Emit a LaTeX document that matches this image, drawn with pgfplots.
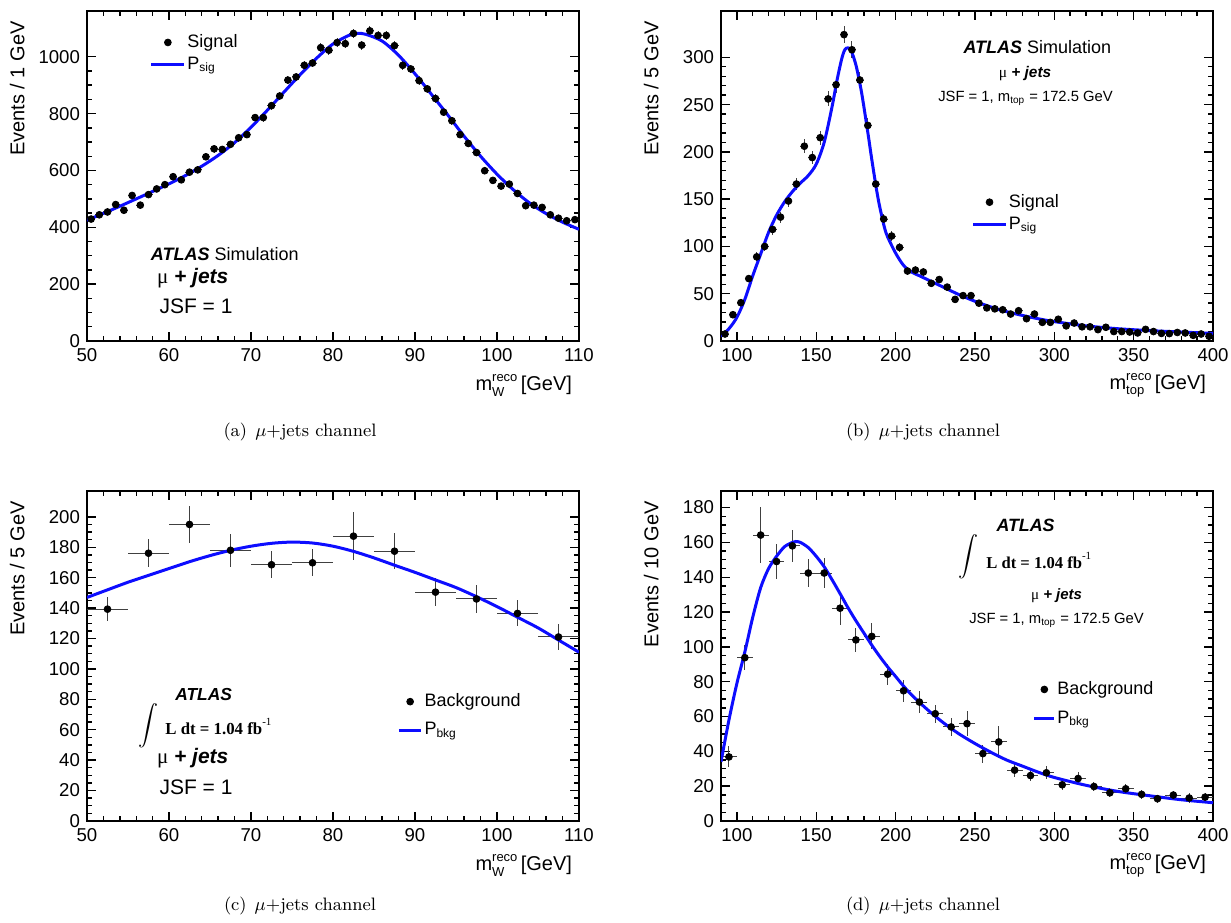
\documentclass[border=0pt]{standalone}
\usepackage{pgfplots}
\pgfplotsset{compat=1.18}
\usepackage{fontspec}
\newfontfamily\helv{Liberation Sans}
\newfontfamily\tms{Liberation Serif}
\definecolor{rootblue}{rgb}{0.05,0.05,1}
\newcommand{\fs}[1]{\fontsize{#1}{#1}\selectfont}
\newcommand{\mlabel}[1]{m\rlap{\raisebox{-2.9pt}{\fs{6.5}#1}}\raisebox{4.3pt}{\fs{6.5}reco}\,[GeV]}
\def\legw{16.5pt}
\pgfplotsset{
  rootstyle/.style={
    scale only axis, width=246pt, height=165pt,
    axis line style={line width=0.9pt},
    every tick/.style={line width=0.7pt, black},
    major tick length=4.5pt, minor tick length=2.4pt,
    tick align=inside,
    scaled ticks=false,
    /pgf/number format/assume math mode=true,
    /pgf/number format/1000 sep={},
    ticklabel style={font=\helv\fs{9.3}},
    label style={font=\helv\fs{10}},
    ylabel style={at={(axis description cs:-0.142,0.99)}, anchor=east},
    xlabel style={at={(axis description cs:1,-0.135)}, anchor=east},
    legend cell align=left,
  },
  datastyle/.style={only marks, mark=*, mark size=1.7pt, black,
    error bars/x dir=both, error bars/y dir=both, error bars/y explicit,
    error bars/x fixed=#1,
    error bars/error bar style={line width=0.5pt, black!75}, error bars/error mark=none},
  curvestyle/.style={rootblue, line width=1.5pt, smooth, no marks},
  legdata/.style={legend image code/.code={\draw[mark repeat=2,mark phase=2,##1] plot coordinates {(0pt,0pt) (\legw/2,0pt) (\legw,0pt)};}},
  legline/.style={legend image code/.code={\draw[##1] (0pt,0pt) -- (\legw,0pt);}},
}
\begin{document}
\begin{tikzpicture}
\useasboundingbox (0,0) rectangle (615.5pt,461pt);

% ---------------- (a) ----------------
\def\legw{16.5pt}
\begin{axis}[rootstyle, at={(43.5pt,290.5pt)}, anchor=south west,
  xmin=50, xmax=110, ymin=0, ymax=1161,
  xtick={50,60,...,110}, minor x tick num=4,
  ytick={0,200,...,1000}, minor y tick num=3,
  ylabel={Events / 1 GeV},
  xlabel={\mlabel{W}},
  legend style={draw=none, fill=none, at={(rel axis cs:0.127,0.935)}, anchor=north west,
    font=\helv\fs{9}, row sep=1.5pt, inner sep=0pt, nodes={inner sep=0.8pt}}]
\addplot[datastyle=0.5, legdata] table[x=x, y=y, y error=ey] {
x y ey
50.5 429 10
51.5 444 10.5
52.5 454 10.5
53.5 480 11
54.5 460 10.5
55.5 512 11.3
56.5 478 11
57.5 515 11.3
58.5 535 11.5
59.5 550 11.7
60.5 578 12
61.5 567 11.9
62.5 594 12.2
63.5 602 12.3
64.5 648 12.7
65.5 676 13
66.5 674 13
67.5 692 13.2
68.5 715 13.4
69.5 726 13.5
70.5 786 14
71.5 786 14
72.5 828 14.4
73.5 862 14.7
74.5 918 15.1
75.5 929 15.2
76.5 970 15.6
77.5 978 15.6
78.5 1032 16
79.5 1023 16
80.5 1050 16.2
81.5 1046 16.2
82.5 1082 16.4
83.5 1041 16.1
84.5 1091 16.5
85.5 1075 16.4
86.5 1075 16.4
87.5 1039 16.1
88.5 970 15.6
89.5 957 15.5
90.5 916 15.1
91.5 887 14.9
92.5 853 14.6
93.5 805 14.2
94.5 775 13.9
95.5 726 13.5
96.5 695 13.2
97.5 663 12.9
98.5 599 12.2
99.5 565 11.9
100.5 545 11.7
101.5 552 11.7
102.5 519 11.4
103.5 476 10.9
104.5 478 10.9
105.5 470 10.8
106.5 444 10.5
107.5 432 10.4
108.5 423 10.3
109.5 427 10.3
};
\addlegendentry{Signal}
\addplot[curvestyle, legline] coordinates {
(50,425) (52,449) (54,474) (56,500) (58,526) (60,553) (62,582) (64,615) (66,653)
(68,698) (70,752) (72,812) (74,875) (76,937) (78,995) (80,1045) (82,1076) (83,1082)
(84,1079) (86,1055) (88,1005) (90,940) (92,868) (94,795) (96,720) (98,650) (100,587)
(102,532) (104,485) (106,448) (108,418) (110,393)};
\addlegendentry{P$_{\mbox{\fs{6}sig}}$}
\node[anchor=west, font=\helv\fs{9}] at (rel axis cs:0.1155,0.262) {\textbf{\textit{ATLAS}} Simulation};
\node[anchor=west, font=\helv\fs{10.5}] at (rel axis cs:0.128,0.191) {{\tms μ} \textbf{\textit{+ jets}}};
\node[anchor=west, font=\helv\fs{10.5}] at (rel axis cs:0.133,0.104) {JSF = 1};
\end{axis}

% ---------------- (b) ----------------
\def\legw{16.2pt}
\begin{axis}[rootstyle, at={(360.5pt,290.5pt)}, anchor=south west,
  xmin=90, xmax=400, ymin=0, ymax=349,
  xtick={100,150,...,400}, minor x tick num=4,
  ytick={0,50,...,300}, minor y tick num=4,
  ylabel={Events / 5 GeV},
  xlabel={\mlabel{top}},
  legend style={draw=none, fill=none, at={(rel axis cs:0.509,0.451)}, anchor=north west,
    font=\helv\fs{9}, row sep=1.7pt, inner sep=0pt, nodes={inner sep=0.8pt}}]
\addplot[datastyle=2.5, legdata] table[x=x, y=y, y error=ey] {
x y ey
92.5 7.4 1.4
97.5 27.8 2.6
102.5 40.5 3.2
107.5 66 4
112.5 89 4.7
117.5 100 5
122.5 118 5.4
127.5 131 5.7
132.5 148 6
137.5 166 6.4
142.5 206 7.2
147.5 194 7
152.5 215 7.3
157.5 256 8
162.5 271 8.2
167.5 324 9
172.5 308 8.8
177.5 276 8.3
182.5 228 7.5
187.5 166 6.4
192.5 129 5.7
197.5 111 5.3
202.5 99 5
207.5 74 4.3
212.5 75 4.3
217.5 73 4.3
222.5 61 3.9
227.5 65 4
232.5 57 3.8
237.5 44 3.3
242.5 48 3.5
247.5 48 3.5
252.5 40 3.2
257.5 35 3
262.5 34 2.9
267.5 33 2.9
272.5 28.5 2.7
277.5 32 2.8
282.5 23.6 2.4
287.5 28.5 2.7
292.5 19.7 2.2
297.5 19.7 2.2
302.5 23 2.4
307.5 16 2
312.5 19 2.2
317.5 15 1.9
322.5 15 1.9
327.5 12 1.7
332.5 14.5 1.9
337.5 10 1.6
342.5 10 1.6
347.5 9.5 1.5
352.5 8.5 1.5
357.5 12.3 1.8
362.5 10 1.6
367.5 8 1.4
372.5 7.8 1.4
377.5 9 1.5
382.5 8.5 1.5
387.5 6 1.2
392.5 7.4 1.4
397.5 5 1.1
};
\addlegendentry{Signal}
\addplot[curvestyle, legline] coordinates {
(90,5) (95,13) (100,25) (105,44) (110,69) (115,92) (120,115) (125,133) (130,147)
(135,158) (140,167) (145,175) (150,187) (155,210) (160,248) (163,275) (166,298)
(168,308) (170,310) (172,307) (175,292) (178,268) (180,248) (183,215) (185,192)
(188,160) (190,142) (193,120) (195,110) (200,93) (205,80) (210,73) (215,69) (220,65)
(230,57) (240,49) (250,42) (260,36) (270,31) (280,27) (290,23.5) (300,20.5)
(320,16) (340,13) (360,11) (380,9.5) (400,8)};
\addlegendentry{P$_{\mbox{\fs{6}sig}}$}
\node[font=\helv\fs{9}] at (rel axis cs:0.643,0.891) {\textbf{\textit{ATLAS}} Simulation};
\node[font=\helv\fs{7.7}] at (rel axis cs:0.618,0.81) {{\tms μ} \textbf{\textit{+ jets}}};
\node[font=\helv\fs{7.4}] at (rel axis cs:0.619,0.735) {JSF = 1, m$_{\mbox{\fs{5}top}}$ = 172.5 GeV};
\end{axis}

% ---------------- (c) ----------------
\def\legw{11.3pt}
\begin{axis}[rootstyle, at={(43.5pt,50.5pt)}, anchor=south west,
  xmin=50, xmax=110, ymin=0, ymax=217,
  xtick={50,60,...,110}, minor x tick num=4,
  ytick={0,20,...,200}, minor y tick num=3,
  ylabel={Events / 5 GeV},
  xlabel={\mlabel{W}},
  legend style={draw=none, fill=none, at={(rel axis cs:0.63,0.392)}, anchor=north west,
    font=\helv\fs{9}, row sep=4.8pt, inner sep=0pt, nodes={inner sep=0.8pt}}]
\addplot[datastyle=2.5, legdata] table[x=x, y=y, y error=ey] {
x y ey
52.5 139.3 7.7
57.5 176.1 9.3
62.5 195 12
67.5 178 11
72.5 168.5 9
77.5 169.8 9
82.5 187.3 16
87.5 177.4 12
92.5 150.5 9
97.5 146 9
102.5 136.5 8.6
107.5 121 8.5
};
\addlegendentry{Background}
\addplot[curvestyle, legline] coordinates {
(50,147) (52.5,152) (55,157) (57.5,161.5) (60,166) (62.5,170.5) (65,174.5)
(67.5,178) (70,180.7) (72.5,182.6) (75,183.4) (77.5,182.8) (80,180.7) (82.5,177.3)
(85,173) (87.5,168.2) (90,163.5) (92.5,158.5) (95,153.5) (97.5,147.5) (100,141)
(102.5,134) (105,127) (107.5,119) (110,111)};
\addlegendentry{P$_{\mbox{\fs{6}bkg}}$}
\node[font=\helv\fs{8.7}] at (rel axis cs:0.237,0.384) {\textbf{\textit{ATLAS}}};
\node[font=\fs{10}] at (rel axis cs:0.124,0.29) {$\displaystyle\int$};
\node[anchor=west, font=\tms\bfseries\fs{8.4}] at (rel axis cs:0.145,0.286) {L dt = 1.04 fb\raisebox{0.55em}{\mdseries\fs{5.5}-1}};
\node[anchor=west, font=\helv\fs{10.5}] at (rel axis cs:0.128,0.19) {{\tms μ} \textbf{\textit{+ jets}}};
\node[anchor=west, font=\helv\fs{10.5}] at (rel axis cs:0.133,0.101) {JSF = 1};
\end{axis}

% ---------------- (d) ----------------
\def\legw{10pt}
\begin{axis}[rootstyle, at={(360.5pt,50.5pt)}, anchor=south west,
  xmin=90, xmax=400, ymin=0, ymax=189.5,
  xtick={100,150,...,400}, minor x tick num=4,
  ytick={0,20,...,180}, minor y tick num=3,
  ylabel={Events / 10 GeV},
  xlabel={\mlabel{top}},
  legend style={draw=none, fill=none, at={(rel axis cs:0.633,0.429)}, anchor=north west,
    font=\helv\fs{9}, row sep=5pt, inner sep=0pt, nodes={inner sep=0.8pt}}]
\addplot[datastyle=5, legdata] table[x=x, y=y, y error=ey] {
x y ey
95 36.8 6
105 93.8 7
115 164.2 16
125 149 10
135 158 9
145 142.4 8
155 142.4 8.5
165 122.2 9.5
175 104 7
185 106 7.5
195 84.3 6
205 74.8 6.4
215 68.3 6.2
225 61.6 5.2
235 54 5.2
245 55.9 7
255 38.7 5.2
265 45.4 9
275 29.2 3.8
285 26.1 3.3
295 27.7 3.8
305 20.8 3
315 24.4 3.5
325 19.8 2.7
335 16.2 2.5
345 18.5 3
355 15.3 2.5
365 12.8 2.4
375 14.9 2.6
385 13.2 3
395 13.7 2.5
};
\addlegendentry{Background}
\addplot[curvestyle, legline] coordinates {
(90,34) (95,58) (100,79) (105,97) (110,117) (115,134) (120,145) (125,152) (130,157.5)
(135,160) (137,160.5) (140,160) (145,157) (150,152) (155,146) (160,138.5) (165,130.6)
(170,122.5) (175,115) (180,108) (185,101) (190,94.5) (195,88.5) (200,83) (205,77.5)
(210,72.5) (220,64) (230,56.5) (240,50) (250,44.5) (260,39.5) (270,35) (280,31.5)
(290,28) (300,25) (320,20.5) (340,17) (360,14.5) (380,12.2) (400,10.5)};
\addlegendentry{P$_{\mbox{\fs{6}bkg}}$}
\node[font=\helv\fs{8.9}] at (rel axis cs:0.619,0.896) {\textbf{\textit{ATLAS}}};
\node[font=\fs{10}] at (rel axis cs:0.504,0.80) {$\displaystyle\int$};
\node[anchor=west, font=\tms\bfseries\fs{8.3}] at (rel axis cs:0.525,0.79) {L dt = 1.04 fb\raisebox{0.55em}{\mdseries\fs{5.5}-1}};
\node[font=\helv\fs{7.5}] at (rel axis cs:0.682,0.682) {{\tms μ} \textbf{\textit{+ jets}}};
\node[font=\helv\fs{7.4}] at (rel axis cs:0.682,0.607) {JSF = 1, m$_{\mbox{\fs{5}top}}$ = 172.5 GeV};
\end{axis}

% captions
\node[font=\fs{9}] at (150pt,245pt) {(a)\hspace{0.45em}$\mu$+jets channel};
\node[font=\fs{9}] at (461.5pt,245pt) {(b)\hspace{0.45em}$\mu$+jets channel};
\node[font=\fs{9}] at (150pt,8pt) {(c)\hspace{0.45em}$\mu$+jets channel};
\node[font=\fs{9}] at (461.5pt,8pt) {(d)\hspace{0.45em}$\mu$+jets channel};
\end{tikzpicture}
\end{document}
